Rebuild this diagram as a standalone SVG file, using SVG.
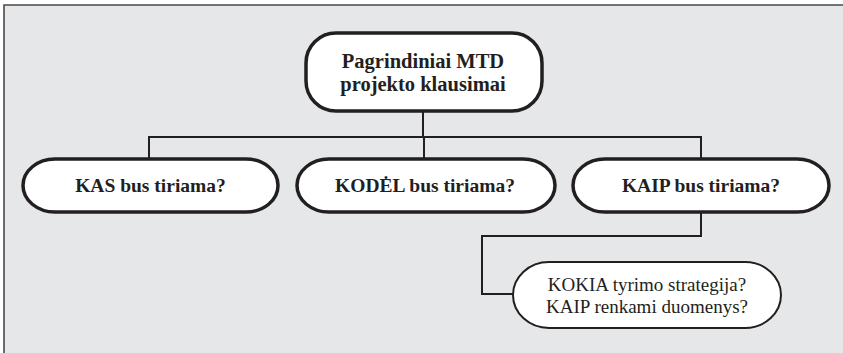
<svg xmlns="http://www.w3.org/2000/svg" width="843" height="353" viewBox="0 0 843 353">
<style>
.bg{fill:#e6e7e8;}
.frame{stroke:#4a4a4a;stroke-width:1.6;fill:none;}
.box{fill:#ffffff;stroke:#231f20;stroke-width:3.5;}
.box2{fill:#ffffff;stroke:#231f20;stroke-width:2;}
.conn{fill:none;stroke:#231f20;stroke-width:2;}
.tb{font-family:"Liberation Serif","Times New Roman",serif;font-weight:bold;fill:#231f20;text-anchor:middle;}
.tr{font-family:"Liberation Serif","Times New Roman",serif;fill:#231f20;text-anchor:middle;font-size:19px;}
</style>
<rect x="0" y="0" width="843" height="353" fill="#ffffff"/>
<rect class="bg" x="4" y="5" width="839" height="348"/>
<path class="frame" d="M4,353 V5 H843"/>
<g id="connectors">
<path class="conn" d="M423,111 V137"/>
<path class="conn" d="M149,159 V137 H701 V159"/>
<path class="conn" d="M424,137 V159"/>
<path class="conn" d="M701,212 V236 H482 V294 H513"/>
</g>
<g id="node-main">
<rect class="box" x="306" y="33" width="236" height="78" rx="30" ry="30"/>
<text class="tb" x="423" y="68" font-size="20.5">Pagrindiniai MTD</text>
<text class="tb" x="423" y="91" font-size="20.5">projekto klausimai</text>
</g>
<g id="node-kas">
<rect class="box" x="23" y="159" width="255" height="53" rx="32" ry="26.5"/>
<text class="tb" x="150.5" y="192" font-size="19.5">KAS bus tiriama?</text>
</g>
<g id="node-kodel">
<rect class="box" x="297" y="159" width="258" height="53" rx="32" ry="26.5"/>
<text class="tb" x="425" y="192" font-size="19.5">KODĖL bus tiriama?</text>
</g>
<g id="node-kaip">
<rect class="box" x="573" y="159" width="256" height="53" rx="32" ry="26.5"/>
<text class="tb" x="701" y="192" font-size="19.5">KAIP bus tiriama?</text>
</g>
<g id="node-detail">
<rect class="box2" x="513" y="262" width="268" height="66" rx="36" ry="33"/>
<text class="tr" x="647" y="291">KOKIA tyrimo strategija?</text>
<text class="tr" x="647" y="313">KAIP renkami duomenys?</text>
</g>
</svg>
